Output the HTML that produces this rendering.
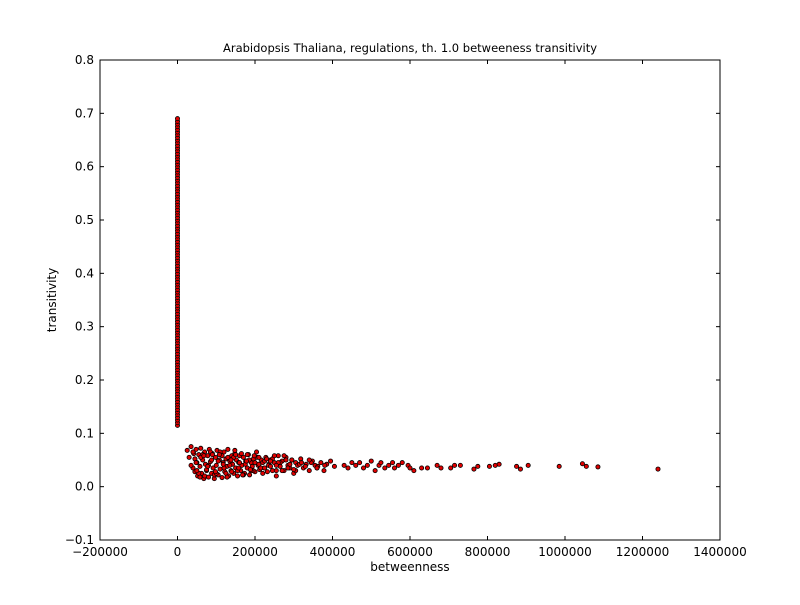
<!DOCTYPE html>
<html><head><meta charset="utf-8"><style>
body{margin:0;background:#fff;}
svg text{font-family:"DejaVu Sans","Liberation Sans",sans-serif;}
</style></head><body>
<svg id="chart" width="800" height="600" xmlns="http://www.w3.org/2000/svg">
<rect width="800" height="600" fill="#fff"/>
<text x="410" y="52" font-size="11.5" text-anchor="middle">Arabidopsis Thaliana, regulations, th. 1.0 betweeness transitivity</text>
<text x="410" y="571" font-size="12" text-anchor="middle">betweenness</text>
<text x="56" y="300" font-size="12" text-anchor="middle" transform="rotate(-90 56 300)">transitivity</text>
<g id="ticks"></g>
<g id="points"></g>
<rect x="100" y="60" width="620" height="480" fill="none" stroke="#000" stroke-width="1"/>
</svg>
<script>
const xTicks=[-200000,0,200000,400000,600000,800000,1000000,1200000,1400000];
const yTicks=[-0.1,0.0,0.1,0.2,0.3,0.4,0.5,0.6,0.7,0.8];
const yTickLabels=["−0.1","0.0","0.1","0.2","0.3","0.4","0.5","0.6","0.7","0.8"];
const columnY=[0.115,0.12,0.125,0.13,0.135,0.14,0.145,0.15,0.155,0.16,0.165,0.17,0.175,0.18,0.185,0.19,0.195,0.2,0.205,0.21,0.215,0.22,0.225,0.23,0.235,0.24,0.245,0.25,0.255,0.26,0.265,0.27,0.275,0.28,0.285,0.29,0.295,0.3,0.305,0.31,0.315,0.32,0.325,0.33,0.335,0.34,0.345,0.35,0.355,0.36,0.365,0.37,0.375,0.38,0.385,0.39,0.395,0.4,0.405,0.41,0.415,0.42,0.425,0.43,0.435,0.44,0.445,0.45,0.455,0.46,0.465,0.47,0.475,0.48,0.485,0.49,0.495,0.5,0.505,0.51,0.515,0.52,0.525,0.53,0.535,0.54,0.545,0.55,0.555,0.56,0.565,0.57,0.575,0.58,0.585,0.59,0.595,0.6,0.605,0.61,0.615,0.62,0.625,0.63,0.635,0.64,0.645,0.65,0.655,0.66,0.665,0.67,0.675,0.68,0.685,0.69];
const clusterX=[25000,30000,35000,40000,42000,45000,48000,50000,52000,55000,58000,60000,62000,65000,68000,70000,72000,75000,78000,80000,82000,85000,88000,90000,92000,95000,98000,100000,102000,105000,108000,110000,112000,115000,118000,120000,122000,125000,128000,130000,132000,135000,138000,140000,142000,145000,148000,150000,152000,155000,158000,160000,163000,166000,170000,173000,176000,180000,183000,186000,190000,193000,196000,200000,204000,208000,212000,216000,220000,224000,228000,232000,236000,240000,245000,250000,255000,260000,265000,270000,275000,280000,285000,290000,295000,300000,305000,310000,318000,325000,332000,340000,348000,355000,362000,370000,378000,385000,395000,405000,
35000,45000,55000,65000,75000,85000,95000,105000,115000,125000,135000,145000,155000,165000,175000,185000,195000,205000,215000,225000,235000,245000,255000,265000,275000,285000,295000,305000,315000,330000,345000,360000,
40000,50000,60000,70000,80000,90000,100000,110000,120000,130000,140000,150000,160000,170000,180000,190000,200000,210000,220000,230000,240000,250000,260000,270000,280000,290000,300000,320000,340000,360000,380000,
48000,58000,68000,78000,88000,98000,108000,118000,128000,138000,148000,158000,168000,178000,188000,198000,210000,225000,240000,255000];
const clusterY=[0.068,0.055,0.075,0.035,0.062,0.028,0.07,0.045,0.02,0.06,0.038,0.072,0.025,0.05,0.015,0.065,0.042,0.03,0.058,0.018,0.07,0.047,0.025,0.062,0.035,0.015,0.055,0.04,0.068,0.022,0.05,0.033,0.06,0.017,0.045,0.065,0.028,0.052,0.038,0.07,0.02,0.048,0.03,0.058,0.042,0.025,0.062,0.035,0.05,0.02,0.045,0.058,0.03,0.04,0.055,0.025,0.048,0.035,0.06,0.022,0.045,0.038,0.052,0.028,0.065,0.04,0.032,0.05,0.045,0.035,0.055,0.028,0.042,0.05,0.03,0.045,0.02,0.058,0.038,0.048,0.03,0.055,0.04,0.035,0.05,0.025,0.045,0.04,0.052,0.035,0.042,0.03,0.048,0.04,0.038,0.045,0.03,0.042,0.048,0.038,
0.04,0.052,0.025,0.06,0.032,0.065,0.022,0.048,0.058,0.025,0.04,0.055,0.03,0.062,0.042,0.05,0.03,0.055,0.035,0.048,0.04,0.052,0.03,0.045,0.058,0.035,0.05,0.03,0.042,0.038,0.045,0.035,
0.065,0.03,0.055,0.02,0.04,0.06,0.025,0.065,0.035,0.055,0.028,0.06,0.045,0.022,0.06,0.03,0.045,0.055,0.025,0.052,0.038,0.058,0.045,0.03,0.05,0.042,0.032,0.045,0.05,0.035,0.04,
0.045,0.018,0.058,0.038,0.05,0.028,0.06,0.042,0.018,0.05,0.068,0.035,0.022,0.048,0.032,0.058,0.042,0.035,0.048,0.04];
const tailX=[430000,440000,450000,460000,470000,480000,490000,500000,510000,520000,525000,535000,545000,555000,560000,570000,580000,595000,600000,610000,630000,645000,670000,680000,705000,715000,730000,765000,775000,805000,820000,830000,875000,885000,905000,985000,1045000,1055000,1085000,1240000];
const tailY=[0.04,0.035,0.045,0.04,0.045,0.035,0.04,0.048,0.03,0.04,0.045,0.035,0.04,0.045,0.035,0.04,0.045,0.04,0.035,0.03,0.035,0.035,0.04,0.035,0.035,0.04,0.04,0.033,0.038,0.038,0.04,0.042,0.038,0.033,0.04,0.038,0.043,0.038,0.037,0.033];

const L=100,R=720,T=60,B=540;
const xs=v=>L+(v+200000)/1600000*(R-L);
const ys=v=>B-(v+0.1)/0.9*(B-T);
const NS="http://www.w3.org/2000/svg";
const tg=document.getElementById('ticks');
function mk(tag,attrs,parent){const e=document.createElementNS(NS,tag);for(const k in attrs)e.setAttribute(k,attrs[k]);parent.appendChild(e);return e;}
xTicks.forEach(v=>{
  const x=xs(v);
  const t1=mk('line',{x1:x,x2:x,y1:B,y2:B-4,stroke:'#000'},tg);
  
  
  const t2=mk('line',{x1:x,x2:x,y1:T,y2:T+4,stroke:'#000'},tg);
  
  
  const lb=mk('text',{x:x,y:B+16,'font-size':12,'text-anchor':'middle'},tg);
  lb.textContent=(v<0?'−':'')+Math.abs(v);
  
  
});
yTicks.forEach((v,i)=>{
  const y=ys(v);
  const t1=mk('line',{x1:L,x2:L+4,y1:y,y2:y,stroke:'#000'},tg);
  
  
  const t2=mk('line',{x1:R,x2:R-4,y1:y,y2:y,stroke:'#000'},tg);
  
  
  const lb=mk('text',{x:L-6,y:y+4,'font-size':12,'text-anchor':'end'},tg);
  lb.textContent=yTickLabels[i];
  
  
});
const pg=document.getElementById('points');
function dot(xv,yv){
  const c=mk('circle',{cx:xs(xv),cy:ys(yv),r:2.1,fill:'#e00000',stroke:'#000','stroke-width':0.8},pg);
  
  
}
columnY.forEach(y=>dot(0,y));
clusterX.forEach((x,i)=>dot(x,clusterY[i]));
tailX.forEach((x,i)=>dot(x,tailY[i]));
</script>
</body></html>
